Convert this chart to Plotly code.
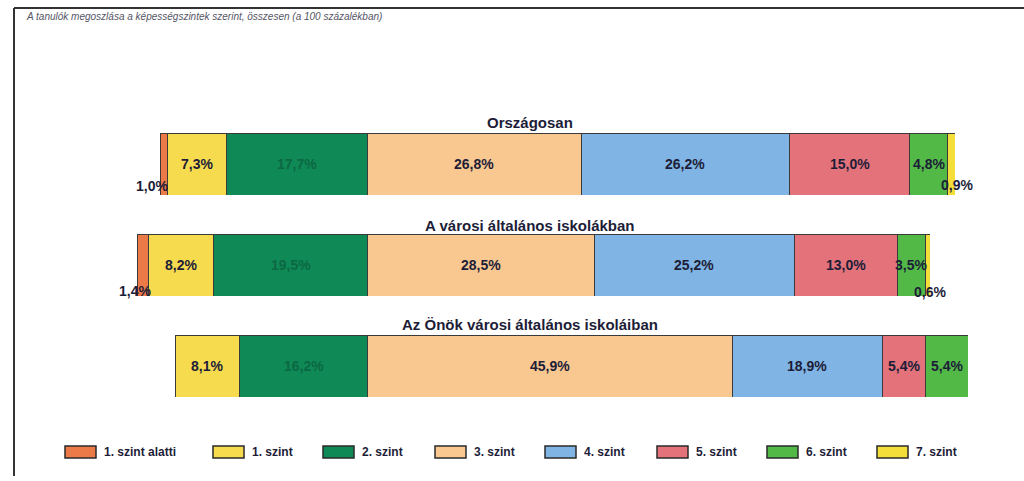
import plotly.graph_objects as go

# levels and colours
levels = ["1. szint alatti", "1. szint", "2. szint", "3. szint",
          "4. szint", "5. szint", "6. szint", "7. szint"]
colors = ["#EC7A48", "#F7DB4F", "#0F8A57", "#F9C891",
          "#7FB4E4", "#E3727A", "#52B947", "#F4DE3A"]

groups = ["Országosan", "A városi általános iskolákban",
          "Az Önök városi általános iskoláiban"]

# percentages per group
orszagosan = [1.0, 7.3, 17.7, 26.8, 26.2, 15.0, 4.8, 0.9]
varosi = [1.4, 8.2, 19.5, 28.5, 25.2, 13.0, 3.5, 0.6]
onok = [0.0, 8.1, 16.2, 45.9, 18.9, 5.4, 5.4, 0.0]
rows = [orszagosan, varosi, onok]

W, H = 1024, 481
# pixel boxes for each bar (left, right, top, bottom)
boxes = [(160, 955, 133, 195), (137, 930, 234, 296), (175, 968, 335, 397)]
title_y = [122, 225, 324]
# shifts for the small labels that sit outside the bars
label_shift = {(0, 0): (-12, -22), (0, 7): (6, -21),
               (1, 0): (-8, -26), (1, 7): (2, -27)}

fig = go.Figure()
annotations = []
shapes = []
layout_axes = {}

for r, values in enumerate(rows):
    sfx = "" if r == 0 else str(r + 1)
    xa, ya = "x" + sfx, "y" + sfx
    left, right, top, bottom = boxes[r]
    total = sum(values)
    layout_axes["xaxis" + sfx] = dict(domain=[left / W, right / W], range=[0, total],
                                      visible=False, fixedrange=True, anchor=ya)
    layout_axes["yaxis" + sfx] = dict(domain=[1 - bottom / H, 1 - top / H], range=[-0.5, 0.5],
                                      visible=False, fixedrange=True, anchor=xa)
    cum = 0
    for i, v in enumerate(values):
        fig.add_trace(go.Bar(x=[v], y=[0], orientation="h", width=1,
                             marker=dict(color=colors[i], line=dict(color="#3a3a3a", width=1)),
                             xaxis=xa, yaxis=ya, showlegend=False, name=levels[i],
                             hovertemplate=levels[i] + ": %{x}%<extra></extra>"))
        if v > 0:
            dx, dy = label_shift.get((r, i), (0, 0))
            annotations.append(dict(
                x=cum + v / 2, y=0, xref=xa, yref=ya, showarrow=False,
                xanchor="center", yanchor="middle",
                text="<b>" + f"{v:.1f}%".replace(".", ",") + "</b>", xshift=dx, yshift=dy,
                font=dict(size=14, color="#0c6842" if i == 2 else "#1d1d38",
                          family="Liberation Sans, Arial"),
            ))
        cum += v
    annotations.append(dict(x=530 / W, y=1 - title_y[r] / H, xref="paper", yref="paper",
                            xanchor="center", yanchor="middle",
                            showarrow=False, text="<b>" + groups[r] + "</b>",
                            font=dict(size=15, color="#1d1d38",
                                      family="Liberation Sans, Arial")))

# legend drawn by hand to get the wide Excel-style keys
legend_x = [65, 213, 323, 435, 545, 657, 767, 877]
for i, name in enumerate(levels):
    x0 = legend_x[i]
    shapes.append(dict(type="rect", xref="paper", yref="paper",
                       x0=x0 / W, x1=(x0 + 31) / W, y0=1 - 458 / H, y1=1 - 446 / H,
                       fillcolor=colors[i], line=dict(color="#2a2a2a", width=1.5)))
    annotations.append(dict(x=(x0 + 37) / W, y=1 - 452 / H, xref="paper", yref="paper",
                            xanchor="left", yanchor="middle", showarrow=False,
                            text="<b>" + name + "</b>",
                            font=dict(size=12, color="#1d1d38",
                                      family="Liberation Sans, Arial")))

# frame and small header text
shapes.append(dict(type="line", xref="paper", yref="paper", x0=14 / W, x1=1, y0=1 - 8 / H, y1=1 - 8 / H,
                   line=dict(color="#333333", width=2)))
shapes.append(dict(type="line", xref="paper", yref="paper", x0=14 / W, x1=14 / W, y0=1 - 8 / H, y1=1 - 476 / H,
                   line=dict(color="#333333", width=2)))
annotations.append(dict(x=24 / W, y=1 - 16 / H, xref="paper", yref="paper",
                        xanchor="left", yanchor="middle", showarrow=False,
                        text="<i>A tanulók megoszlása a képességszintek szerint, összesen (a 100 százalékban)</i>",
                        font=dict(size=10, color="#555566", family="Liberation Sans, Arial")))

fig.update_layout(
    width=W, height=H, margin=dict(l=0, r=0, t=0, b=0),
    paper_bgcolor="white", plot_bgcolor="white",
    barmode="stack", showlegend=False,
    annotations=annotations, shapes=shapes,
    **layout_axes,
)

# drop the default page margin so the figure sits at the window corner
fig.write_html("out.html", config={"displayModeBar": False},
               post_script="document.body.style.margin='0';")
